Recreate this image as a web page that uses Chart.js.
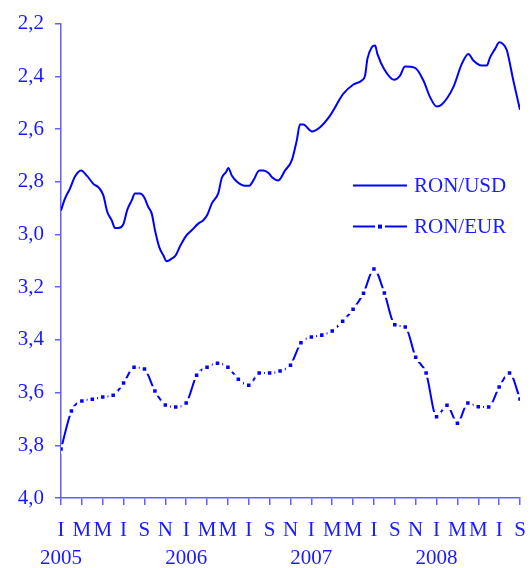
<!DOCTYPE html>
<html>
<head>
<meta charset="utf-8">
<script src="https://cdn.jsdelivr.net/npm/chart.js@4.4.0/dist/chart.umd.min.js"></script>
<style>
  html, body { margin: 0; padding: 0; background: #fff; }
</style>
</head>
<body>
<canvas id="fxChart" width="530" height="568"></canvas>
<script>
// month letters (Romanian initials) for the every-2-month ticks, and the years
var monthLetters = ['I', '', 'M', '', 'M', '', 'I', '', 'S', '', 'N', ''];
var years = [2005, 2006, 2007, 2008];

// RON/USD: month index since Jan 2005 -> rate
var usdMonths = [0, 0.38, 0.86, 1.34, 1.92, 2.52, 3.1, 3.64, 4.06, 4.44, 4.86, 5.18, 5.49, 5.97,
  6.36, 6.78, 7.09, 7.57, 7.96, 8.37, 8.7, 9.01, 9.42, 9.81, 10.13, 10.61, 11.0, 11.41, 11.96,
  12.53, 13.16, 13.64, 14.03, 14.45, 15.08, 15.41, 15.82, 16.04, 16.37, 16.9, 17.64, 18.05,
  18.44, 19.01, 19.4, 19.97, 20.2, 20.83, 21.48, 22.12, 22.6, 22.91, 23.23, 24.04, 24.83,
  25.79, 27.07, 28.03, 28.83, 29.15, 29.37, 29.79, 30.11, 30.33, 30.97, 31.93, 32.5, 32.98,
  33.94, 34.74, 35.38, 36.02, 36.5, 37.61, 38.42, 39.05, 39.53, 40.34, 40.82, 41.13, 41.61,
  42.02, 42.35, 42.73, 43.36, 44.0];
var usdRates = [2.909, 2.864, 2.826, 2.780, 2.757, 2.779, 2.808, 2.823, 2.852, 2.915, 2.946, 2.976,
  2.976, 2.962, 2.906, 2.871, 2.845, 2.845, 2.858, 2.896, 2.921, 2.984, 3.048, 3.079, 3.102,
  3.092, 3.079, 3.045, 3.007, 2.984, 2.959, 2.946, 2.925, 2.883, 2.843, 2.786, 2.763, 2.748,
  2.776, 2.801, 2.815, 2.815, 2.795, 2.757, 2.757, 2.770, 2.782, 2.795, 2.757, 2.719, 2.643,
  2.583, 2.583, 2.609, 2.593, 2.549, 2.466, 2.431, 2.416, 2.397, 2.334, 2.290, 2.283, 2.315,
  2.372, 2.413, 2.397, 2.363, 2.368, 2.416, 2.479, 2.515, 2.507, 2.441, 2.353, 2.315, 2.340,
  2.359, 2.359, 2.328, 2.296, 2.271, 2.277, 2.300, 2.416, 2.527];

// RON/EUR, monthly from Jan 2005 to Sep 2008
var eurRates = [3.814, 3.670, 3.632, 3.625, 3.617, 3.610, 3.564, 3.504, 3.511, 3.594, 3.647, 3.655,
  3.640, 3.534, 3.504, 3.489, 3.504, 3.549, 3.572, 3.526, 3.526, 3.518, 3.496, 3.411,
  3.389, 3.382, 3.366, 3.329, 3.284, 3.223, 3.131, 3.222, 3.343, 3.351, 3.466, 3.526,
  3.692, 3.648, 3.716, 3.640, 3.654, 3.655, 3.579, 3.526, 3.624];

var blue = '#0000ff';
var textBlue = '#1a1aff';
var axisBlue = '#6060ff';
var serif = "'Liberation Serif', 'Times New Roman', serif";

var usdPoints = usdMonths.map(function(m, i) { return {x: m, y: usdRates[i]}; });
var eurPoints = eurRates.map(function(v, i) { return {x: i, y: v}; });

// legend drawn inside the plot, right of centre
var innerLegend = {
  id: 'innerLegend',
  afterDraw: function(chart) {
    var ctx = chart.ctx, area = chart.chartArea;
    var x0 = area.left + 292, len = 54;
    var rows = [area.top + 162, area.top + 203];
    ctx.save();
    chart.data.datasets.forEach(function(ds, i) {
      var y = rows[i];
      ctx.strokeStyle = ds.borderColor;
      ctx.lineWidth = ds.borderWidth;
      ctx.beginPath();
      ctx.moveTo(x0, y);
      ctx.lineTo(x0 + len, y);
      ctx.stroke();
      if (ds.pointRadius > 0) {
        ctx.fillStyle = '#fff';
        ctx.fillRect(x0 + len / 2 - 5, y - 4, 10, 8);
        ctx.fillStyle = ds.pointBackgroundColor;
        ctx.fillRect(x0 + len / 2 - 2, y - 2, 4, 4);
      }
      ctx.fillStyle = textBlue;
      ctx.font = '21px ' + serif;
      ctx.textBaseline = 'middle';
      ctx.textAlign = 'left';
      ctx.fillText(ds.label, x0 + len + 7, y + 1);
    });
    ctx.restore();
  }
};

var ctx = document.getElementById('fxChart');
var chart = new Chart(ctx, {
  type: 'line',
  data: {
    datasets: [{
      label: 'RON/USD',
      data: usdPoints,
      borderColor: blue,
      borderWidth: 2,
      pointRadius: 0,
      tension: 0.4,
      cubicInterpolationMode: 'monotone'
    }, {
      label: 'RON/EUR',
      data: eurPoints,
      borderColor: blue,
      borderWidth: 2,
      pointStyle: 'rect',
      pointRadius: 4.6,
      pointBackgroundColor: blue,
      pointBorderColor: '#fff',
      pointBorderWidth: 3,
      tension: 0.4,
      cubicInterpolationMode: 'monotone'
    }]
  },
  options: {
    responsive: false,
    animation: false,
    layout: { padding: { top: 23, right: 10, left: 0, bottom: 0 } },
    plugins: {
      legend: { display: false },
      tooltip: { enabled: false }
    },
    scales: {
      x: {
        type: 'linear',
        min: 0,
        max: 44,
        afterFit: function(scale) {
          scale.height = 70;
          scale.paddingLeft = 0;
          scale.paddingRight = 0;
        },
        border: { color: axisBlue, width: 1.5 },
        grid: { drawOnChartArea: false, drawTicks: true, tickLength: 7, color: axisBlue, lineWidth: 1.5 },
        ticks: {
          stepSize: 2,
          autoSkip: false,
          maxRotation: 0,
          padding: 12,
          color: textBlue,
          font: { family: serif, size: 21, lineHeight: 1.33 },
          callback: function(v) {
            var letter = monthLetters[v % 12];
            if (v % 12 === 0) return [letter, String(years[v / 12])];
            return letter;
          }
        }
      },
      y: {
        reverse: true,
        min: 2.2,
        max: 4.0,
        afterFit: function(scale) { scale.width = 61; },
        border: { color: axisBlue, width: 1.5 },
        grid: { drawOnChartArea: false, drawTicks: true, tickLength: 6, color: axisBlue, lineWidth: 1.5 },
        ticks: {
          stepSize: 0.2,
          padding: 11,
          color: textBlue,
          font: { family: serif, size: 21 },
          callback: function(v) { return v.toFixed(1).replace('.', ','); }
        }
      }
    }
  },
  plugins: [innerLegend]
});
</script>
</body>
</html>
